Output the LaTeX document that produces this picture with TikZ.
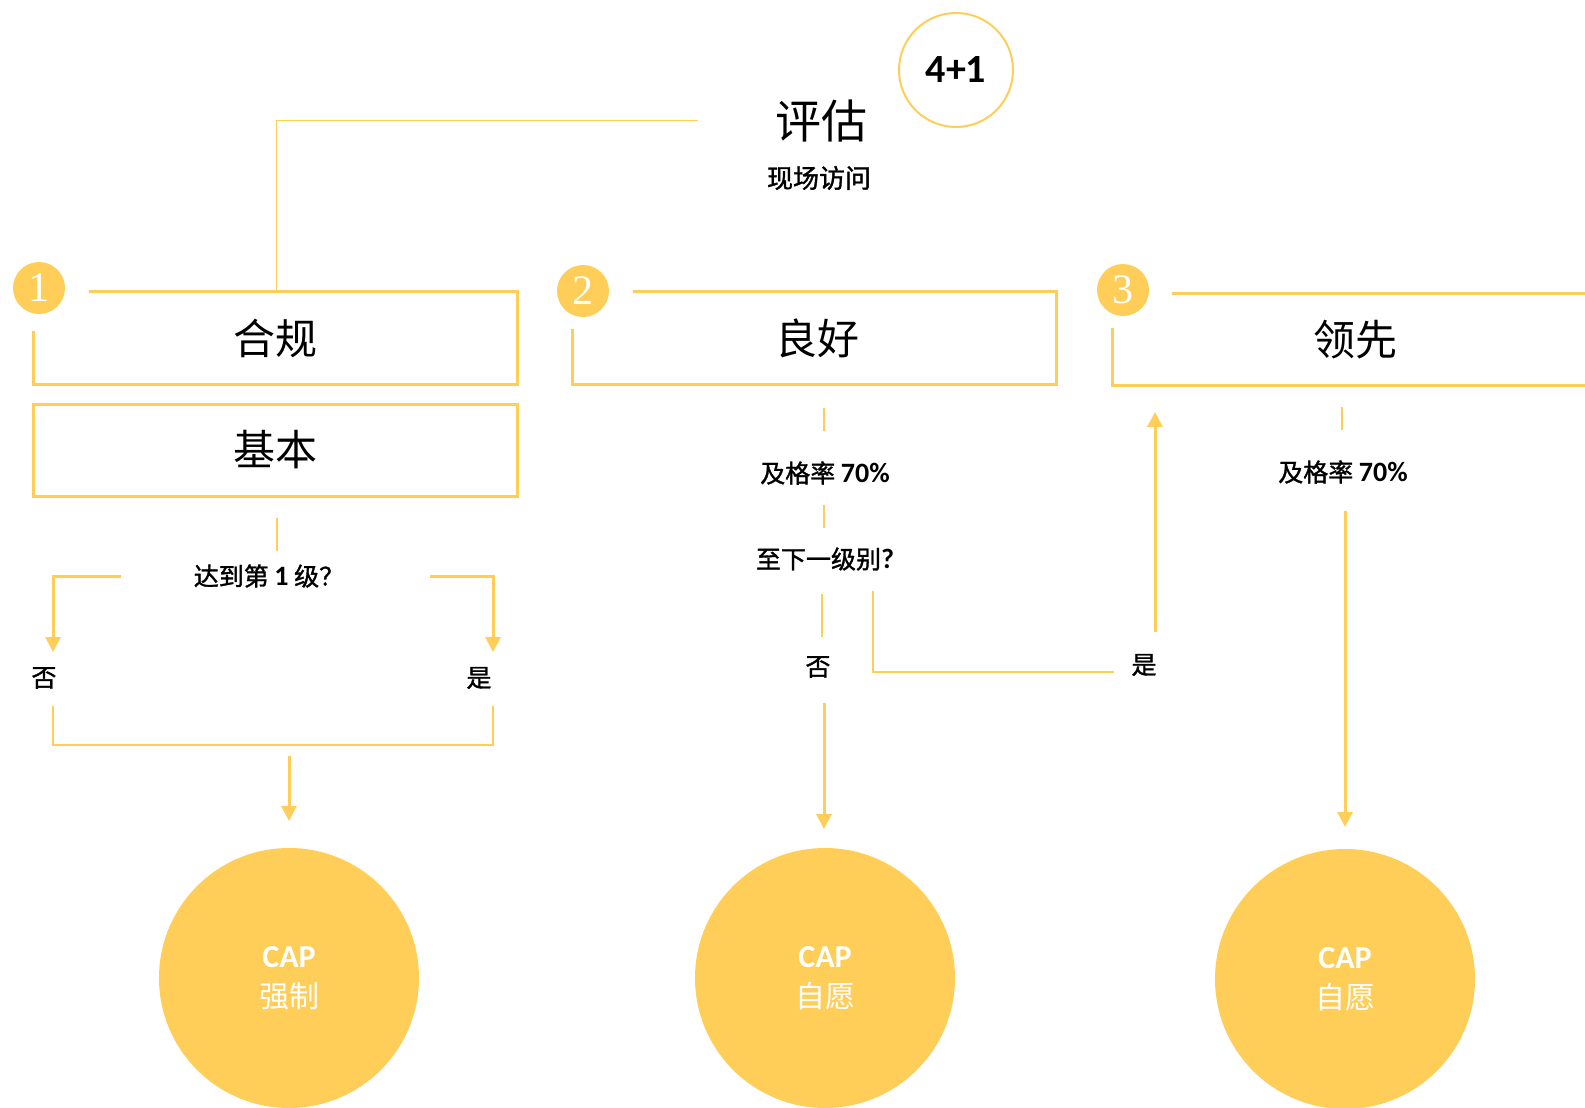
\documentclass[tikz,border=0pt]{standalone}
\usepackage{fontspec}
\newfontfamily\cjk{Noto Sans CJK SC}
\newfontfamily\cjkb[FakeBold=1.3]{Noto Sans CJK SC}
\newfontfamily\calfont{Carlito}
\newfontfamily\numfont{Liberation Serif}
\usetikzlibrary{arrows.meta}
\definecolor{gold}{HTML}{FFCE58}
\newcommand{\fsz}[1]{\fontsize{#1}{#1}\selectfont}
\newcommand{\latn}[1]{{\calfont\bfseries\fsz{14pt}#1}}

\begin{document}
\begin{tikzpicture}[x=0.5pt,y=-0.5pt,>={Triangle[width=7.5pt,length=7.5pt]},
    frame/.style={draw=gold,line width=1.5pt},
    thin/.style={draw=gold,line width=0.7pt},
    arr/.style={draw=gold,line width=1.5pt,->},
    num/.style={circle,fill=gold,minimum size=26pt,inner sep=0pt,text=white,font=\numfont\fsz{21pt}},
    head/.style={font=\cjk\fsz{21pt}},
    lbl/.style={font=\cjkb\fsz{12.5pt}},
    capball/.style={circle,fill=gold,minimum size=130pt,inner sep=0pt,text=white,align=center,font=\cjk\fsz{15pt}}]
    \useasboundingbox (0,0) rectangle (1585,1108);
    % top
    \node[font=\cjk\fsz{23pt}] (pg) at (821,121) {评估};
    \node[lbl,font=\cjkb\fsz{13pt}] (xc) at (819,178) {现场访问};
    \node[circle,draw=gold,line width=1pt,minimum size=57pt,font=\calfont\bfseries\fsz{20pt}] (w) at (956,70) {4+1};
    \coordinate (t0) at (698,120);
    \coordinate (t1) at (276,291);
    \draw[draw=gold,line width=0.5pt] (t0) -| (t1);
    % column 1
    \node[num] (n1) at (39,288) {1};
    \node[head] (hg) at (275,338) {合规};
    \node[head] (jb) at (275,450) {基本};
    \draw[frame] (89,291) -- (517,291) -- (517,384) -- (33,384) -- (33,331);
    \draw[frame] (33,404) rectangle (517,496);
    \node[lbl] (q1) at (269,576) {达到第 \latn{1} 级？};
    \node[lbl] (no1) at (44,678) {否};
    \node[lbl] (yes1) at (479,678) {是};
    \coordinate (d1a) at (277,518); \coordinate (d1b) at (277,551);
    \draw[thin] (d1a) -- (d1b);
    \coordinate (l1) at (121,576); \coordinate (l2) at (53,652);
    \coordinate (r1) at (430,576); \coordinate (r2) at (493,652);
    \draw[arr] (l1) -| (l2);
    \draw[arr] (r1) -| (r2);
    \coordinate (b1) at (53,706); \coordinate (b2) at (493,706);
    \draw[thin] (b1) |- (493,745) -- (b2);
    \coordinate (a1) at (289,756); \coordinate (a2) at (289,821);
    \draw[arr] (a1) -- (a2);
    \node[capball] (c1) at (289,978) {{\calfont\bfseries\fsz{16pt}CAP}\\[5pt]强制};
    % column 2
    \node[num] (n2) at (583,291) {2};
    \node[head] (lh) at (817,338) {良好};
    \draw[frame] (633,291) -- (1056,291) -- (1056,384) -- (572,384) -- (572,329);
    \node[lbl] (pr2) at (825,473) {及格率 \latn{70\%}};
    \node[lbl] (q2) at (825,559) {至下一级别\latn{?}};
    \node[lbl] (no2) at (818,667) {否};
    \node[lbl] (yes2) at (1144,665) {是};
    \coordinate (d2a) at (824,408); \coordinate (d2b) at (824,431);
    \coordinate (d2c) at (824,505); \coordinate (d2d) at (824,528);
    \coordinate (d2e) at (822,594); \coordinate (d2f) at (822,637);
    \draw[thin] (d2a) -- (d2b);
    \draw[thin] (d2c) -- (d2d);
    \draw[thin] (d2e) -- (d2f);
    \coordinate (a3) at (824,703); \coordinate (a4) at (824,829);
    \draw[arr] (a3) -- (a4);
    \coordinate (y1) at (873,591); \coordinate (y2) at (1114,672);
    \draw[thin] (y1) |- (y2);
    \coordinate (u1) at (1155,632); \coordinate (u2) at (1155,412);
    \draw[arr] (u1) -- (u2);
    \node[capball] (c2) at (825,978) {{\calfont\bfseries\fsz{16pt}CAP}\\[5pt]自愿};
    % column 3
    \node[num] (n3) at (1123,290) {3};
    \node[head] (lx) at (1355,340) {领先};
    \draw[frame] (1172,293) -- (1590,293);
    \draw[frame] (1112,328) -- (1112,385) -- (1590,385);
    \node[lbl] (pr3) at (1343,472) {及格率 \latn{70\%}};
    \coordinate (d3a) at (1342,407); \coordinate (d3b) at (1342,430);
    \draw[thin] (d3a) -- (d3b);
    \coordinate (a5) at (1345,511); \coordinate (a6) at (1345,827);
    \draw[arr] (a5) -- (a6);
    \node[capball] (c3) at (1345,979) {{\calfont\bfseries\fsz{16pt}CAP}\\[5pt]自愿};
\end{tikzpicture}
\end{document}
